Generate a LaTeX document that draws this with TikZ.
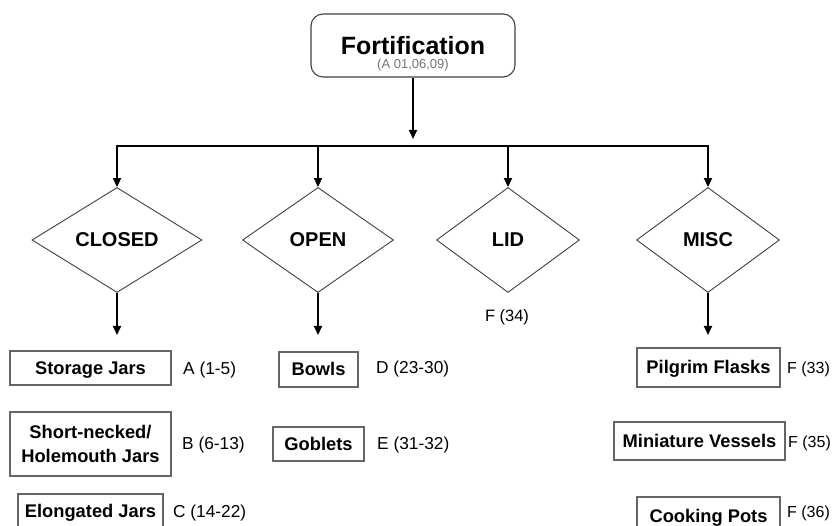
\documentclass[tikz,border=0pt]{standalone}
\usepackage{fontspec}
\setmainfont{Liberation Sans}
\usepackage{tikz}
\usetikzlibrary{arrows.meta,shapes.geometric}

\begin{document}
\begin{tikzpicture}[x=1pt,y=1pt,yscale=-1,xscale=1,
  decision/.style={diamond,draw=black!75,line width=0.9pt,inner sep=0pt,minimum height=105pt,font=\fontsize{20}{24}\selectfont\bfseries},
  typebox/.style={rectangle,draw=black!60,line width=1.2pt,inner sep=0pt,align=center,font=\fontsize{18.3}{24}\selectfont\bfseries},
  onebox/.style={typebox,text height=13pt,text depth=0pt},
  coderef/.style={anchor=west,inner sep=0pt,font=\fontsize{17.3}{20}\selectfont},
  flow/.style={line width=2pt,-{Triangle[width=8pt,length=9pt]}}]
\clip (0,0) rectangle (836,526);

%Shape: Rounded Rect
\node [rectangle,rounded corners=12pt,draw=black!75,line width=1.1pt,minimum width=204pt,minimum height=63pt] (fort) at (413,45.5) {};
% Text Node
\node [anchor=base,inner sep=0pt,font=\fontsize{25}{30}\selectfont\bfseries] (forttitle) at (413,55) {Fortification};
% Text Node
\node [anchor=base,inner sep=0pt,text=black!55,font=\fontsize{13}{15}\selectfont] (fortsub) at (413,69) {(A 01,06,09)};

%Shape: Diamond
\node [decision,minimum width=170pt] (closed) at (117,240) {CLOSED};
\node [decision,minimum width=151pt] (open) at (318,240) {OPEN};
\node [decision,minimum width=143pt] (lid) at (508,240) {LID};
\node [decision,minimum width=143pt] (misc) at (708,240) {MISC};

%Straight Lines
\coordinate (bar) at (413,146);
\draw [flow,shorten >=7pt] (fort) -- (bar);
\draw [flow] (bar) -| (closed.north);
\draw [flow] (bar) -| (open.north);
\draw [flow] (bar) -| (lid.north);
\draw [flow] (bar) -| (misc.north);

\coordinate (closedend) at (117,335);
\coordinate (openend) at (318,335);
\coordinate (miscend) at (708,335);
\draw [flow] (closed.south) -- (closedend);
\draw [flow] (open.south) -- (openend);
\draw [flow] (misc.south) -- (miscend);

% Text Node
\node [inner sep=0pt,font=\fontsize{16.5}{20}\selectfont] (lidref) at (507,317) {F (34)};

%Shape: Rectangle
\node [onebox,minimum width=161pt,minimum height=34pt] (storage) at (90.5,368) {Storage Jars};
\node [typebox,minimum width=161pt,minimum height=64pt] (shortneck) at (90.5,444) {Short-necked/\\Holemouth Jars};
\node [onebox,minimum width=145pt,minimum height=34pt] (elongated) at (90.5,511) {Elongated Jars};
\node [onebox,minimum width=79pt,minimum height=35pt] (bowls) at (318.5,369.5) {Bowls};
\node [onebox,minimum width=91pt,minimum height=34pt] (goblets) at (318.5,444) {Goblets};
\node [onebox,minimum width=143pt,minimum height=39pt] (pilgrim) at (708.5,367.5) {Pilgrim Flasks};
\node [onebox,minimum width=171pt,minimum height=38pt] (miniature) at (699.5,441) {Miniature Vessels};
\node [onebox,minimum width=143pt,minimum height=39pt] (cooking) at (708.5,516.5) {Cooking Pots};

% Text Node
\node [coderef] (storageref) at (183,370) {A (1-5)};
\node [coderef] (shortneckref) at (182,445) {B (6-13)};
\node [coderef] (elongatedref) at (173,513) {C (14-22)};
\node [coderef] (bowlsref) at (376,369) {D (23-30)};
\node [coderef] (gobletsref) at (377,445) {E (31-32)};
\node [coderef,font=\fontsize{16}{20}\selectfont] (pilgrimref) at (787,369) {F (33)};
\node [coderef,font=\fontsize{16}{20}\selectfont] (miniatureref) at (788,443) {F (35)};
\node [coderef,font=\fontsize{16}{20}\selectfont] (cookingref) at (787,513) {F (36)};

\end{tikzpicture}
\end{document}
